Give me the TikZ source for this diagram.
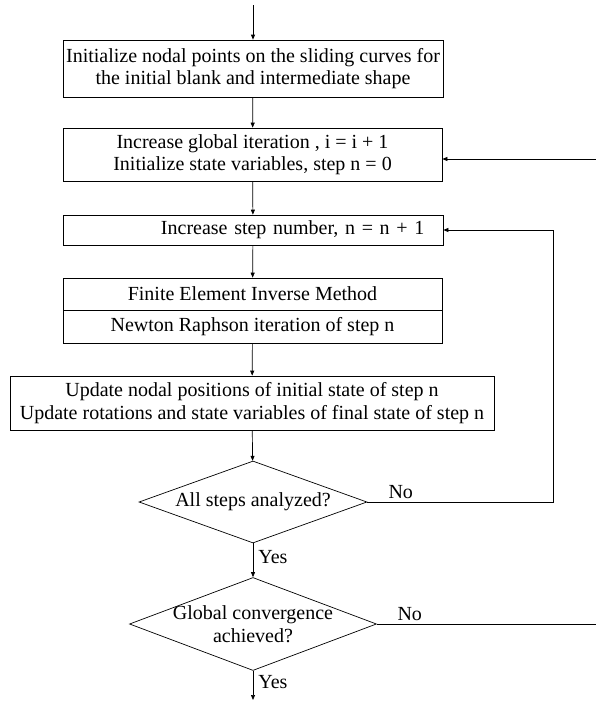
\documentclass[tikz,border=0pt]{standalone}
\usepackage{fontspec}
\setmainfont{Liberation Serif}
\usetikzlibrary{arrows.meta,positioning,calc,shapes.geometric}

\begin{document}
\begin{tikzpicture}[x=1pt,y=-1pt,
  font=\fontsize{20}{22.5}\selectfont,
  >={Triangle[length=5pt,width=4pt]},
  line width=0.7pt,
  box/.style={draw,rectangle,inner sep=2pt,align=center},
  dec/.style={draw,diamond,inner sep=0pt,align=center},
  lab/.style={inner sep=1pt}]
 \useasboundingbox (0,0) rectangle (596,702);
 % process boxes
 \node[box,minimum width=380pt,minimum height=57pt] (init) at (253,68.5)
   {Initialize nodal points on the sliding curves for\\the initial blank and intermediate shape};
 \node[box,minimum width=379pt,minimum height=53pt] (glob) at (252.5,154.5)
   {Increase global iteration , i = i + 1\\Initialize state variables, step n = 0};
 \node[box,minimum width=380pt,minimum height=30pt,text width=374pt,align=left] (step) at (253,230)
   {\hspace*{95pt}Increase step number, n = n + 1};
 \node[box,minimum width=379pt,minimum height=32pt] (fem) at (252.5,294)
   {Finite Element Inverse Method};
 \node[box,minimum width=379pt,minimum height=33pt] (nr) at (252.5,326.5)
   {Newton Raphson iteration of step n};
 \node[box,minimum width=484pt,minimum height=54pt] (upd) at (252,403)
   {Update nodal positions of initial state of step n\\Update rotations and state variables of final state of step n};
 % decisions
 \node[dec,minimum width=228pt,minimum height=82pt,aspect=2.78] (all) at (253,502)
   {All steps analyzed?};
 \node[dec,minimum width=247pt,minimum height=93pt,aspect=2.66,inner xsep=-24pt] (conv) at (253,624)
   {Global convergence\\achieved?};
 % loose ends
 \coordinate (in) at (253,5);
 \coordinate (out) at (253,700);
 \coordinate (back) at (596,159);
 \coordinate (exit) at (596,624);
 \coordinate (turn) at (553,502);
 % connectors
 \draw[->] (in) -- (init);
 \draw[->] (init) -- (glob);
 \draw[->] (glob) -- (step);
 \draw[->] (step) -- (fem);
 \draw[->] (nr) -- (upd);
 \draw[->] (upd) -- (all);
 \draw[->] (all) -- node[lab,right=4pt,pos=0.4]{Yes} (conv);
 \draw[->] (conv) -- node[lab,right=4pt,pos=0.4]{Yes} (out);
 \draw[->] (all.east) -- node[lab,above=2pt,pos=0.18]{No} (turn) |- (step.east);
 \draw (conv.east) -- node[lab,above=2pt,pos=0.15]{No} (exit);
 \draw[->] (back) -- (back -| glob.east);
\end{tikzpicture}
\end{document}
